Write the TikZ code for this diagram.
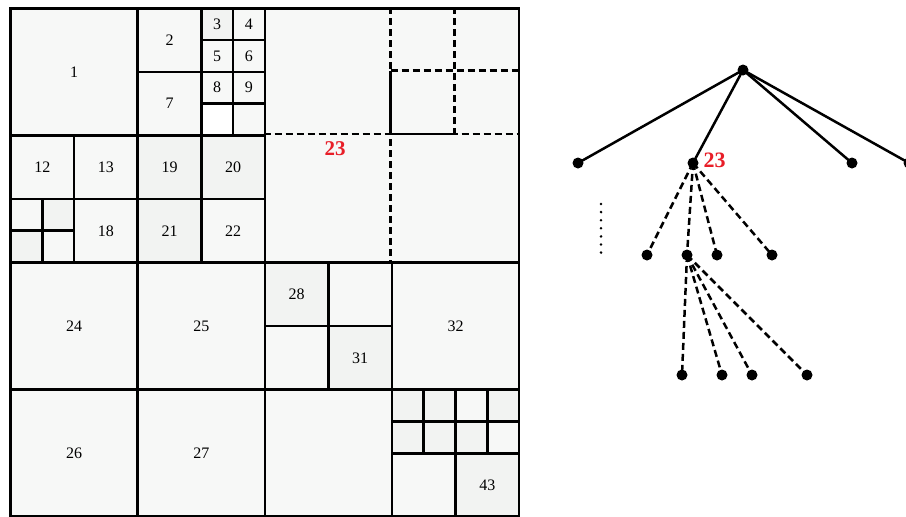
\documentclass[tikz,border=0pt]{standalone}
\usepackage{fontspec}
\setmainfont{Liberation Serif}
\definecolor{qfill}{RGB}{247,248,247}
\definecolor{qdark}{RGB}{242,243,242}
\definecolor{qred}{RGB}{232,30,40}
\def\u{31.78}
\newcommand\qc[6][qfill]{\node[qcell,fill=#1,minimum width=#5*\u pt,minimum height=#6*\u pt,anchor=north west] (#2) at (#3,#4) {};}
\tikzset{
  qcell/.style={draw,line width=2.6pt,inner sep=0pt},
  qlab/.style={font=\fontsize{16}{18}\selectfont},
  dashline/.style={line width=2.6pt,dash pattern=on 7pt off 4pt},
  solidline/.style={line width=2.6pt},
  dot/.style={circle,fill=black,inner sep=0pt,minimum size=11pt},
  edge/.style={line width=2.5pt},
  dedge/.style={line width=2.5pt,dash pattern=on 7pt off 4pt},
  redlab/.style={text=qred,font=\bfseries\fontsize{21}{24}\selectfont}
}
\begin{document}
\begin{tikzpicture}[x=1pt,y=-1pt]
\useasboundingbox (0,0) rectangle (906,517);
\begin{scope}[shift={(9.3pt,-7pt)},x=\u pt,y=-\u pt]
% top-left quadrant
\qc{c1}{0}{0}{4}{4}
\qc{c2}{4}{0}{2}{2}
\qc{c7}{4}{2}{2}{2}
\qc[qdark]{c3}{6}{0}{1}{1}
\qc{c4}{7}{0}{1}{1}
\qc{c5}{6}{1}{1}{1}
\qc{c6}{7}{1}{1}{1}
\qc{c8}{6}{2}{1}{1}
\qc{c9}{7}{2}{1}{1}
\qc[white]{c10}{6}{3}{1}{1}
\qc{c11}{7}{3}{1}{1}
\qc{c12}{0}{4}{2}{2}
\qc{c13}{2}{4}{2}{2}
\qc{c14}{0}{6}{1}{1}
\qc[qdark]{c15}{1}{6}{1}{1}
\qc[qdark]{c16}{0}{7}{1}{1}
\qc{c17}{1}{7}{1}{1}
\qc{c18}{2}{6}{2}{2}
\qc[qdark]{c19}{4}{4}{2}{2}
\qc[qdark]{c20}{6}{4}{2}{2}
\qc[qdark]{c21}{4}{6}{2}{2}
\qc{c22}{6}{6}{2}{2}
% top-right quadrant (node 23)
\qc{c23}{8}{0}{8}{8}
\draw[dashline] (12,0) -- (12,8);
\draw[dashline] (8,4) -- (16,4);
\draw[dashline] (14,0) -- (14,4);
\draw[dashline] (12,2) -- (16,2);
\draw[solidline] (12,2) -- (12,4) -- (14,4);
% bottom-left quadrant
\qc{c24}{0}{8}{4}{4}
\qc{c25}{4}{8}{4}{4}
\qc{c26}{0}{12}{4}{4}
\qc{c27}{4}{12}{4}{4}
% bottom-right quadrant
\qc[qdark]{c28}{8}{8}{2}{2}
\qc{c29}{10}{8}{2}{2}
\qc{c30}{8}{10}{2}{2}
\qc[qdark]{c31}{10}{10}{2}{2}
\qc{c32}{12}{8}{4}{4}
\qc{c33}{8}{12}{4}{4}
\qc[qdark]{c34}{12}{12}{1}{1}
\qc[qdark]{c35}{13}{12}{1}{1}
\qc{c36}{14}{12}{1}{1}
\qc[qdark]{c37}{15}{12}{1}{1}
\qc[qdark]{c38}{12}{13}{1}{1}
\qc[qdark]{c39}{13}{13}{1}{1}
\qc[qdark]{c40}{14}{13}{1}{1}
\qc{c41}{15}{13}{1}{1}
\qc{c42}{12}{14}{2}{2}
\qc[qdark]{c43}{14}{14}{2}{2}
% labels
\foreach \n in {1,2,3,4,5,6,7,8,9,12,13,18,19,20,21,22,24,25,26,27,28,31,32,43}
  \node[qlab] (l\n) at (c\n.center) {\n};
\node[redlab] (l23) at (10.25,4.45) {23};
\end{scope}
% tree
\node[dot] (r) at (743,70) {};
\node[dot] (a1) at (578,163) {};
\node[dot] (a2) at (693,163) {};
\node[dot] (a3) at (852,163) {};
\node[dot] (a4) at (909,163) {};
\node[redlab,font=\bfseries\fontsize{22}{24}\selectfont,anchor=west] (t23) at (700,160) {23};
\node[dot] (b1) at (647,255) {};
\node[dot] (b2) at (687,255) {};
\node[dot] (b3) at (717,255) {};
\node[dot] (b4) at (772,255) {};
\node[dot] (d1) at (682,375) {};
\node[dot] (d2) at (722,375) {};
\node[dot] (d3) at (752,375) {};
\node[dot] (d4) at (807,375) {};
\foreach \t in {a1,a2,a3,a4} \draw[edge] (r.center) -- (\t.center);
\foreach \t in {b1,b2,b3,b4} \draw[dedge] (a2.center) -- (\t.center);
\foreach \t in {d1,d2,d3,d4} \draw[dedge] (b2.center) -- (\t.center);
\coordinate (v1) at (601,204);
\coordinate (v2) at (601,253);
\draw[line width=2.8pt,line cap=round,dash pattern=on 0pt off 8.1pt] (v1) -- (v2);
\end{tikzpicture}
\end{document}
